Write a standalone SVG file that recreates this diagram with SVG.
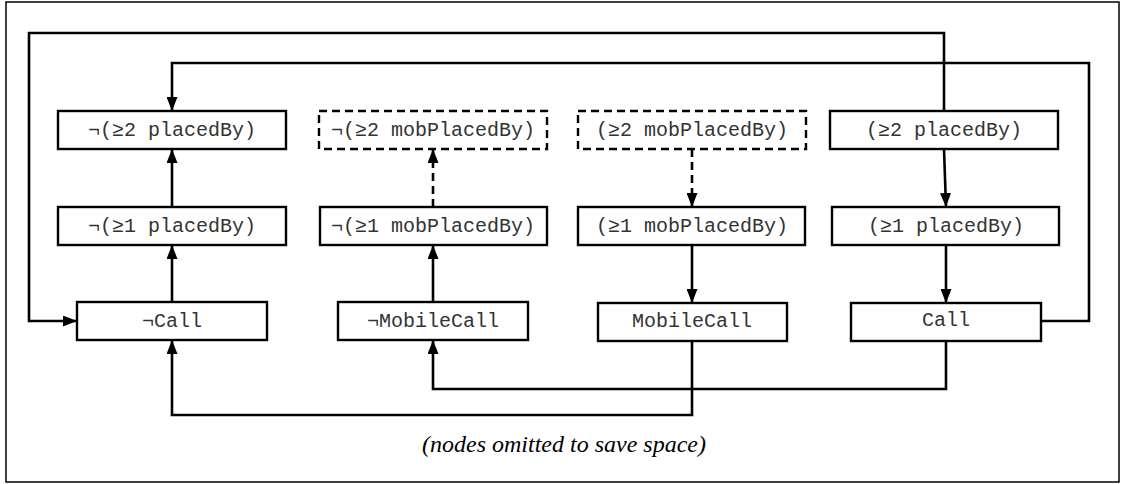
<svg xmlns="http://www.w3.org/2000/svg" width="1121" height="484" viewBox="0 0 1121 484">
<style>
.box{fill:#fff;stroke:#000;stroke-width:2.4}
.dash{stroke-dasharray:8 5}
.lbl{font-family:"Liberation Mono","Courier New",monospace;font-size:20px;fill:#333;text-anchor:middle}
.c{fill:none;stroke:#000;stroke-width:2.6}
.cap{font-family:"Liberation Serif","Times New Roman",serif;font-style:italic;font-size:24px;fill:#000;text-anchor:middle}
</style>
<defs>
<marker id="ah" viewBox="0 0 14 11" refX="14" refY="5.5" markerWidth="14" markerHeight="11" markerUnits="userSpaceOnUse" orient="auto">
<path d="M0,0 L14,5.5 L0,11 Z" fill="#000"/>
</marker>
</defs>
<rect x="6" y="2" width="1113" height="480" fill="#fff" stroke="#000" stroke-width="1.5"/>
<g id="connectors">
<path class="c" d="M944,111 V33 H29 V321 H77" marker-end="url(#ah)"/>
<path class="c" d="M1041,321 H1089 V63 H172 V111" marker-end="url(#ah)"/>
<path class="c" d="M946,341 V389 H433 V340" marker-end="url(#ah)"/>
<path class="c" d="M692,341 V415 H172 V340" marker-end="url(#ah)"/>
<path class="c" d="M172,302 V245" marker-end="url(#ah)"/>
<path class="c" d="M172,207 V149" marker-end="url(#ah)"/>
<path class="c" d="M433,302 V245" marker-end="url(#ah)"/>
<path class="c dash" d="M433,207 V149" marker-end="url(#ah)"/>
<path class="c dash" d="M692,149 V207" marker-end="url(#ah)"/>
<path class="c" d="M692,245 V303" marker-end="url(#ah)"/>
<path class="c" d="M944,149 L946,207" marker-end="url(#ah)"/>
<path class="c" d="M946,245 V303" marker-end="url(#ah)"/>
</g>
<g id="n_not_ge2_placedBy"><rect class="box" x="58" y="111" width="228" height="38"/><text class="lbl" x="172" y="136">¬(≥2 placedBy)</text></g>
<g id="n_not_ge1_placedBy"><rect class="box" x="58" y="207" width="228" height="38"/><text class="lbl" x="172" y="232">¬(≥1 placedBy)</text></g>
<g id="n_not_Call"><rect class="box" x="77" y="302" width="190" height="38"/><text class="lbl" x="172" y="327">¬Call</text></g>
<g id="n_not_ge2_mob"><rect class="box dash" x="319" y="111" width="228" height="38"/><text class="lbl" x="433" y="136">¬(≥2 mobPlacedBy)</text></g>
<g id="n_not_ge1_mob"><rect class="box" x="320" y="207" width="227" height="38"/><text class="lbl" x="433" y="232">¬(≥1 mobPlacedBy)</text></g>
<g id="n_not_MobileCall"><rect class="box" x="338" y="302" width="190" height="38"/><text class="lbl" x="433" y="327">¬MobileCall</text></g>
<g id="n_ge2_mob"><rect class="box dash" x="578" y="111" width="228" height="38"/><text class="lbl" x="692" y="136">(≥2 mobPlacedBy)</text></g>
<g id="n_ge1_mob"><rect class="box" x="578" y="207" width="227" height="38"/><text class="lbl" x="692" y="232">(≥1 mobPlacedBy)</text></g>
<g id="n_MobileCall"><rect class="box" x="598" y="303" width="189" height="38"/><text class="lbl" x="692" y="327">MobileCall</text></g>
<g id="n_ge2_placedBy"><rect class="box" x="830" y="111" width="228" height="38"/><text class="lbl" x="944" y="136">(≥2 placedBy)</text></g>
<g id="n_ge1_placedBy"><rect class="box" x="832" y="207" width="227" height="38"/><text class="lbl" x="946" y="232">(≥1 placedBy)</text></g>
<g id="n_Call"><rect class="box" x="851" y="303" width="190" height="38"/><text class="lbl" x="946" y="326">Call</text></g>
<text class="cap" x="564" y="452">(nodes omitted to save space)</text>
</svg>
